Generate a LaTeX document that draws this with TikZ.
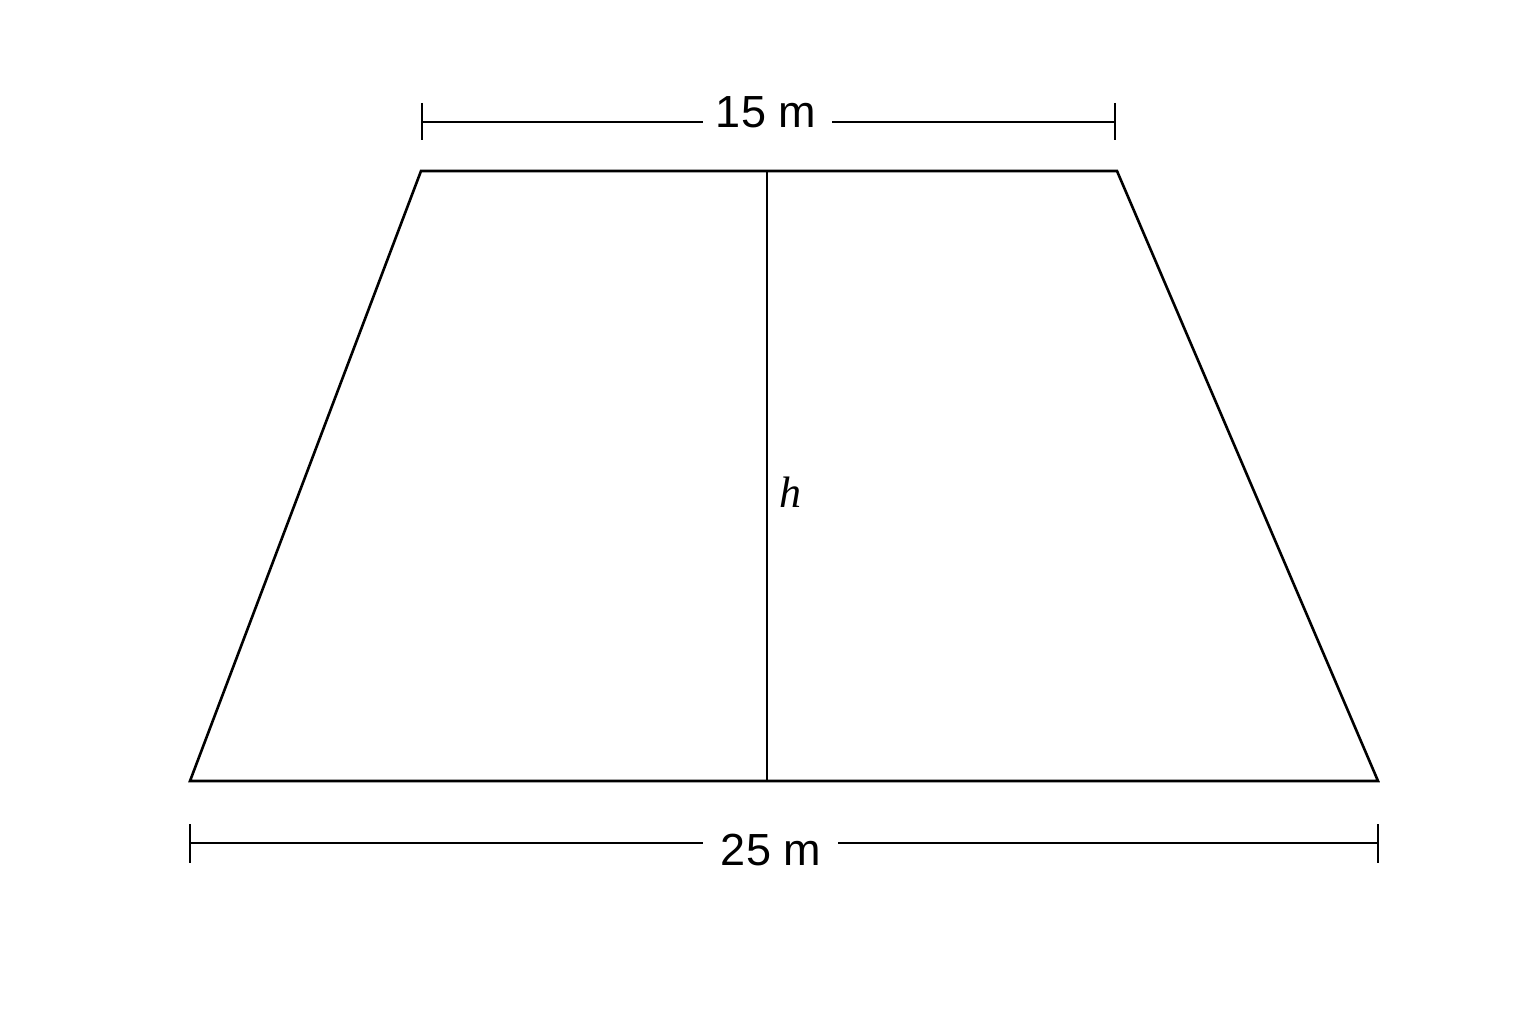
\documentclass[tikz,border=0pt]{standalone}
\usepackage{fontspec}
\setmainfont{Liberation Sans}
\newfontfamily\hserif{Liberation Serif}
\begin{document}
\begin{tikzpicture}[x=1pt,y=-1pt,
  edge/.style={line width=2.6pt,line join=miter},
  dimline/.style={line width=2pt},
  dimlabel/.style={font=\fontsize{45}{50}\selectfont,inner sep=0pt,anchor=center},
  hlabel/.style={font=\fontsize{44}{48}\selectfont\hserif\itshape,inner sep=0pt}]
\useasboundingbox (0,0) rectangle (1536,1024);
\fill[white] (0,0) rectangle (1536,1024);
\coordinate (TL) at (421,171);
\coordinate (TR) at (1117,171);
\coordinate (BR) at (1378,781);
\coordinate (BL) at (190,781);
\coordinate (HT) at (767,171);
\coordinate (HB) at (767,781);
\draw[edge] (TL) -- (TR) -- (BR) -- (BL) -- cycle;
\draw[line width=2pt] (HT) -- (HB);
\node[hlabel] (h) at (790,492) {h};
% top dimension
\coordinate (t1) at (422,122);
\coordinate (t2) at (1115,122);
\node[dimlabel] (top) at (766,112) {15 m};
\coordinate (tg1) at (703,122);
\coordinate (tg2) at (832,122);
\draw[dimline] (t1) -- (tg1);
\draw[dimline] (tg2) -- (t2);
\draw[dimline] (422,103) -- (422,140);
\draw[dimline] (1115,103) -- (1115,140);
% bottom dimension
\coordinate (b1) at (190,843);
\coordinate (b2) at (1378,843);
\node[dimlabel] (bot) at (771,850) {25 m};
\coordinate (bg1) at (703,843);
\coordinate (bg2) at (838,843);
\draw[dimline] (b1) -- (bg1);
\draw[dimline] (bg2) -- (b2);
\draw[dimline] (190,824) -- (190,863);
\draw[dimline] (1378,824) -- (1378,863);
\end{tikzpicture}
\end{document}
